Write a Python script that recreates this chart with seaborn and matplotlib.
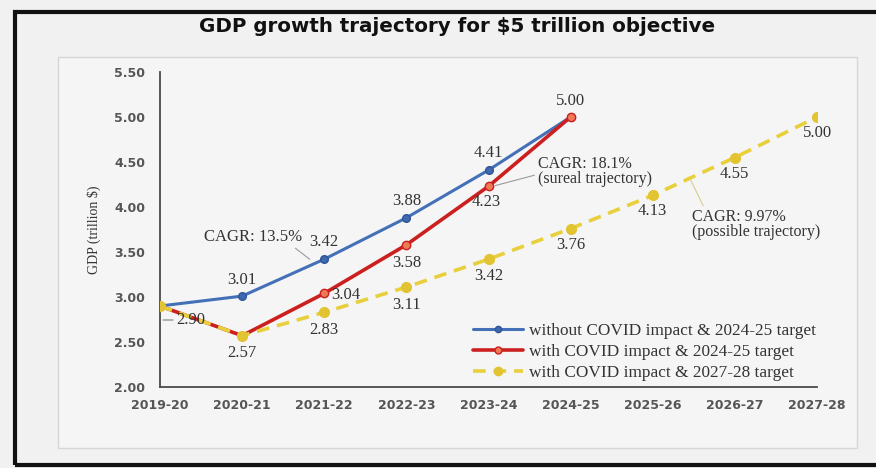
import matplotlib
matplotlib.use("Agg")
import matplotlib.pyplot as plt
import seaborn as sns
import pandas as pd
from matplotlib.patches import Rectangle
from matplotlib.lines import Line2D
from matplotlib.text import OffsetFrom

# Fiscal years on the x axis
periods = ["2019-20", "2020-21", "2021-22", "2022-23", "2023-24",
           "2024-25", "2025-26", "2026-27", "2027-28"]

# GDP in trillion US$
gdp_no_covid = [2.90, 3.01, 3.42, 3.88, 4.41, 5.00]
gdp_covid_2025 = [2.90, 2.57, 3.04, 3.58, 4.23, 5.00]
gdp_covid_2028 = [2.90, 2.57, 2.83, 3.11, 3.42, 3.76, 4.13, 4.55, 5.00]

series_names = ["without COVID impact & 2024-25 target",
                "with COVID impact & 2024-25 target",
                "with COVID impact & 2027-28 target"]

y_ticks = [2.00, 2.50, 3.00, 3.50, 4.00, 4.50, 5.00, 5.50]

cagr_texts = ["CAGR: 13.5%",
              "CAGR: 18.1%\n(sureal trajectory)",
              "CAGR: 9.97%\n(possible trajectory)"]

frames = []
for name, vals in zip(series_names, [gdp_no_covid, gdp_covid_2025, gdp_covid_2028]):
    frames.append(pd.DataFrame({"pos": range(len(vals)),
                                "period": periods[:len(vals)],
                                "gdp": vals,
                                "series": name}))
df = pd.concat(frames, ignore_index=True)

sns.set_style("white")
plt.rcParams["font.family"] = ["DejaVu Sans"]

BG = "#f1f1f1"
SERIF = "Liberation Serif"
TXT = "#333333"
fig = plt.figure(figsize=(8.76, 4.68), dpi=100, facecolor=BG)

# outer black frame and inner panel
fig.patches.append(Rectangle((15 / 876, 1 - 465 / 468), (890 - 15) / 876, (465 - 12) / 468,
                             transform=fig.transFigure, fill=False,
                             edgecolor="#111111", linewidth=3.0, zorder=-2))
fig.patches.append(Rectangle((58 / 876, 1 - 448 / 468), (857 - 58) / 876, (448 - 57) / 468,
                             transform=fig.transFigure, facecolor="#f5f5f5",
                             edgecolor="#d6d6d6", linewidth=1.0, zorder=-2))

fig.text(457 / 876, 1 - 27 / 468, "GDP growth trajectory for $5 trillion objective",
         ha="center", va="center", fontsize=14.3, fontweight="bold",
         family="DejaVu Sans", color="#111111")

ax = fig.add_axes([160 / 876, 1 - 387 / 468, (817 - 160) / 876, (387 - 72) / 468])
ax.set_zorder(2)
ax.patch.set_alpha(0)

styles = {
    series_names[0]: dict(color="#4470b8", lw=2.2, marker="o", ms=5.5,
                          mfc="#3f68b0", mec="#2e5597", ls="-", z=3),
    series_names[1]: dict(color="#cc1f1f", lw=2.6, marker="o", ms=6,
                          mfc="#ee7a55", mec="#cc1f1f", ls="-", z=4),
    series_names[2]: dict(color="#e8cf3c", lw=2.6, marker="o", ms=7,
                          mfc="#e2c331", mec="#e2c331", ls=(0, (3.5, 2.2)), z=5),
}

for name in series_names:
    st = styles[name]
    sub = df[df["series"] == name]
    sns.lineplot(data=sub, x="pos", y="gdp", ax=ax, color=st["color"],
                 linewidth=st["lw"], marker=st["marker"], markersize=st["ms"],
                 markerfacecolor=st["mfc"], markeredgecolor=st["mec"],
                 markeredgewidth=1.0, linestyle=st["ls"], zorder=st["z"],
                 legend=False, sort=False)

ax.set_xlim(0, len(periods) - 1)
ax.set_ylim(y_ticks[0], y_ticks[-1])
ax.set_xticks(range(len(periods)))
ax.set_xticklabels(periods)
ax.set_yticks(y_ticks)
ax.set_yticklabels([f"{v:.2f}" for v in y_ticks])
ax.set_xlabel("")
ax.set_ylabel("GDP (trillion $)", family=SERIF, fontsize=10,
              color=TXT, labelpad=10)

for side in ["top", "right"]:
    ax.spines[side].set_visible(False)
for side in ["left", "bottom"]:
    ax.spines[side].set_color("#4a4a4a")
    ax.spines[side].set_linewidth(1.3)
ax.tick_params(axis="both", direction="inout", length=9, width=1.3,
               color="#4a4a4a", labelcolor="#555555", labelsize=9)
for lab in ax.get_xticklabels() + ax.get_yticklabels():
    lab.set_fontweight("bold")
ax.tick_params(axis="x", pad=4)
ax.tick_params(axis="y", pad=6)

# value labels: offsets (pixels) per series, per point
label_font = dict(family=SERIF, fontsize=12, color=TXT, ha="center", va="center")
offsets_no_covid = [None, (0, 16), (0, 17), (0, 17), (0, 17), (0, 16)]
offsets_covid_2025 = [(31, -14), (0, -17), (21, -2), (0, -18), (-2, -16), None]
offsets_covid_2028 = [None, None, (0, -18), (0, -18), (0, -17), (0, -16),
                      (-1, -16), (-1, -16), (0, -16)]

for vals, offs in [(gdp_no_covid, offsets_no_covid),
                   (gdp_covid_2025, offsets_covid_2025),
                   (gdp_covid_2028, offsets_covid_2028)]:
    for i, (v, off) in enumerate(zip(vals, offs)):
        if off is None:
            continue
        ax.annotate(f"{v:.2f}", (i, v), xytext=off, textcoords="offset pixels",
                    zorder=6, **label_font)

# short horizontal leader for the starting value
start_ref = OffsetFrom(ax.transData, (0, gdp_covid_2025[0]), unit="pixels")
ax.annotate("", xy=(3, -14), xycoords=start_ref, xytext=(13, -14), textcoords=start_ref,
            arrowprops=dict(arrowstyle="-", color="#8a8a8a", lw=0.9,
                            shrinkA=0, shrinkB=0), zorder=2)

# CAGR callouts
lead = dict(arrowstyle="-", color="#9a9a9a", lw=0.8, shrinkA=0, shrinkB=2)
ax.annotate(cagr_texts[0], xy=(1.85, 3.40), xytext=(-59, 24),
            textcoords="offset pixels", ha="center", va="center",
            family=SERIF, fontsize=12, color=TXT,
            arrowprops=dict(lead, relpos=(0.88, 0.05)))
ax.annotate(cagr_texts[1], xy=(4.05, gdp_covid_2025[4]), xytext=(45, 15),
            textcoords="offset pixels", ha="left", va="center",
            family=SERIF, fontsize=11.5, color=TXT, linespacing=0.9,
            arrowprops=dict(lead, relpos=(0.0, 0.4)))
ax.annotate(cagr_texts[2], xy=(6.43, 4.36), xytext=(4, -50),
            textcoords="offset pixels", ha="left", va="center",
            family=SERIF, fontsize=11.5, color=TXT, linespacing=0.9,
            arrowprops=dict(dict(lead, color="#d8cf90"), relpos=(0.1, 1.0)))

handles = []
for name in series_names:
    st = styles[name]
    handles.append(Line2D([], [], color=st["color"], lw=st["lw"], marker=st["marker"],
                          ms=st["ms"] - 1, mfc=st["mfc"], mec=st["mec"],
                          ls=st["ls"]))
leg = ax.legend(handles, series_names, loc="lower left",
                bbox_to_anchor=((473 - 160) / 657, 6 / 315), bbox_transform=ax.transAxes,
                frameon=False, handlelength=2.9, handletextpad=0.35,
                labelspacing=0.28, borderaxespad=0, borderpad=0,
                prop=dict(family=SERIF, size=12.4))
for t in leg.get_texts():
    t.set_color(TXT)

fig.savefig("out.png", dpi=100, facecolor=BG)
